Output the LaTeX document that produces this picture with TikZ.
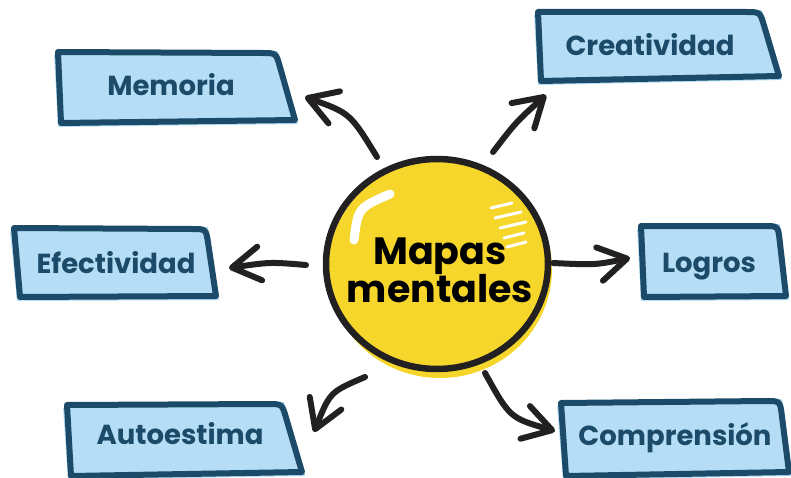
\documentclass[tikz,border=0pt]{standalone}
\usepackage{fontspec}
\setmainfont{Poppins}
\usetikzlibrary{arrows.meta,calc}
\definecolor{ballyellow}{HTML}{F6D62A}
\definecolor{inkblack}{HTML}{222021}
\definecolor{boxblue}{HTML}{B5DDF5}
\definecolor{boxdark}{HTML}{1B4B68}
\tikzset{
  lbl/.style={text=boxdark,font=\fontsize{27.5}{30}\selectfont\bfseries,inner sep=0pt,anchor=base},
  boxline/.style={draw=boxdark,line width=6pt,line join=round,fill=boxblue},
  boxshadow/.style={fill=boxblue},
  conn/.style={draw=inkblack,line width=6pt,line cap=round,
    -{Straight Barb[length=28pt,width=34pt,line width=6pt,round]}},
  hilite/.style={draw=white,line cap=round}
}
\newcommand\mmbox[4]{%
  \fill[boxshadow] ($(#1)+(-4,3)$) -- ($(#2)+(2,-2)$) -- ($(#3)+(3,4)$) -- ($(#4)+(-3,4)$) -- cycle;
  \draw[boxline] (#1) -- ($(#2)+(-14,0)$) .. controls (#2) .. ($(#2)!14pt!(#3)$) -- (#3) -- (#4) -- cycle;
}
\begin{document}
\begin{tikzpicture}[x=1pt,y=-1pt]
\useasboundingbox (0,0) rectangle (791,478);
% boxes
\mmbox{58,52}{276,53}{295,120}{61,123}
\node[lbl] (mem) at (171,96) {Memoria};
\mmbox{538,12}{760,12}{779,76}{541,81}
\node[lbl] (cre) at (650,56) {Creatividad};
\mmbox{14,228}{206,229}{216,296}{20,297}
\node[lbl] (efe) at (116,273) {Efectividad};
\mmbox{641,226}{778,226}{786,296}{644,297}
\node[lbl] (log) at (709,272) {Logros};
\mmbox{67,405}{282,404}{302,472}{71,476}
\node[lbl] (aut) at (180,444) {Autoestima};
\mmbox{561,403}{780,401}{789,472}{566,476}
\node[lbl] (com) at (675,445) {Comprensión};
% ball
\fill[ballyellow] (440,269) ellipse [x radius=112, y radius=109];
\draw[inkblack,line width=6.5pt] (437,264) ellipse [x radius=111, y radius=105];
\draw[hilite,line width=9pt] (354,240) .. controls (358,208) .. (390,194);
\draw[hilite,line width=3pt] (491,208) -- (512,203);
\draw[hilite,line width=3pt] (495,218) -- (521,212);
\draw[hilite,line width=3pt] (500,228) -- (526,222);
\draw[hilite,line width=3pt] (504,238) -- (524,233);
\draw[hilite,line width=3pt] (507,247) -- (526,242);
\node[font=\fontsize{38}{38}\selectfont\bfseries,text=black,align=center,inner sep=0pt] (ball) at (440,270) {Mapas\\[-1pt]mentales};
% connector ends
\coordinate (s1) at (377,157); \coordinate (t1) at (305,97);
\coordinate (s2) at (493,152); \coordinate (t2) at (546,95);
\coordinate (s3) at (306,265); \coordinate (t3) at (229,268);
\coordinate (s4) at (553,263); \coordinate (t4) at (630,258);
\coordinate (s5) at (365,377); \coordinate (t5) at (314,432);
\coordinate (s6) at (485,373); \coordinate (t6) at (555,431);
\draw[conn] (s1) .. controls (350,113) .. (t1);
\draw[conn] (s2) .. controls (516,122) .. (t2);
\draw[conn] (s3) .. controls (270,262) .. (t3);
\draw[conn] (s4) .. controls (595,265) .. (t4);
\draw[conn] (s5) .. controls (330,392) .. (t5);
\draw[conn] (s6) .. controls (510,418) .. (t6);
\end{tikzpicture}
\end{document}
